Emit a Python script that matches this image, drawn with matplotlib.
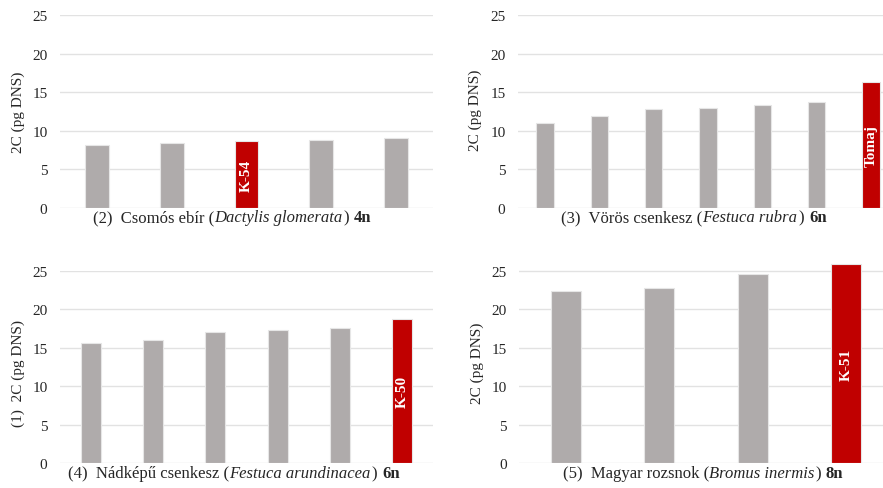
import matplotlib
matplotlib.use("Agg")
import matplotlib.pyplot as plt

# --- Adatok (2C DNS-tartalom, pg) ---
vals_dactylis = [8.2, 8.4, 8.65, 8.8, 9.05]
red_dactylis = 2
lab_dactylis = "K-54"

vals_rubra = [10.95, 11.95, 12.75, 12.95, 13.3, 13.75, 16.35]
red_rubra = 6
lab_rubra = "Tomaj"

vals_arund = [15.6, 16.0, 17.0, 17.3, 17.5, 18.7]
red_arund = 5
lab_arund = "K-50"

vals_bromus = [22.3, 22.75, 24.6, 25.9]
red_bromus = 3
lab_bromus = "K-51"

yticks = [0, 5, 10, 15, 20, 25]

GRAY = "#AFABAB"
RED = "#C00000"
GRID = "#E2E2E2"
TEXT = "#262626"

W, H = 883, 489
plt.rcParams["font.family"] = ["Liberation Serif", "DejaVu Serif"]

fig = plt.figure(figsize=(W / 100, H / 100), dpi=100)


def panel(x0, x1, y0, y25, ymax, values, red_idx, red_label):
    """Egy oszlopdiagram elhelyezése pixelkoordináták alapján."""
    per_unit = (y0 - y25) / 25.0
    top = y0 - ymax * per_unit
    ax = fig.add_axes([x0 / W, 1 - y0 / H, (x1 - x0) / W, (y0 - top) / H])
    xs = list(range(len(values)))
    colors = [RED if i == red_idx else GRAY for i in xs]
    ax.bar(xs, values, width=0.32, color=colors, edgecolor="#E6E6E6",
           linewidth=0.8, zorder=3)
    ax.set_xlim(-0.5, len(values) - 0.5)
    ax.set_ylim(0, ymax)
    ax.set_yticks(yticks)
    ax.set_xticks([])
    ax.yaxis.grid(True, color=GRID, linewidth=1.0, zorder=0)
    for s in ax.spines.values():
        s.set_visible(False)
    ax.tick_params(axis="y", length=0, pad=9, labelsize=11, labelcolor=TEXT)
    v = values[red_idx]
    ax.text(red_idx, v / 2, red_label, rotation=90, ha="center", va="center",
            color="white", fontsize=11, fontweight="bold", zorder=4)
    return ax


panel(60, 433, 209, 16, 25, vals_dactylis, red_dactylis, lab_dactylis)
panel(518, 898, 208.7, 16, 25, vals_rubra, red_rubra, lab_rubra)
panel(60, 433, 464, 271.7, 25, vals_arund, red_arund, lab_arund)
panel(519, 893, 464, 271.7, 26.4, vals_bromus, red_bromus, lab_bromus)


def ftext(x, y, s, **kw):
    return fig.text(x / W, 1 - y / H, s, color=TEXT, **kw)


def caption(xc, y, parts, size=12):
    """Vegyes stílusú (álló / dőlt / félkövér) felirat, középre igazítva.
    Minden rész: (szöveg, stílus, vastagság, utána hagyott rés px-ben)."""
    renderer = fig.canvas.get_renderer()
    texts = []
    total = 0.0
    for s, style, weight, gap in parts:
        t = ftext(0, y, s, fontsize=size, fontstyle=style, fontweight=weight,
                  ha="left", va="baseline")
        w = t.get_window_extent(renderer).width + gap
        texts.append((t, w))
        total += w
    x = xc - total / 2
    for t, w in texts:
        t.set_x(x / W)
        x += w


# tengelyfeliratok
ftext(18, 112, "2C (pg DNS)", rotation=90, ha="center", va="center", fontsize=11)
ftext(475, 110, "2C (pg DNS)", rotation=90, ha="center", va="center", fontsize=11)
ftext(18, 374, "(1)  2C (pg DNS)", rotation=90, ha="center", va="center", fontsize=11)
ftext(477, 363, "2C (pg DNS)", rotation=90, ha="center", va="center", fontsize=11)

# fajnevek a diagramok alatt
N, I, B = "normal", "italic", "bold"
caption(232, 222, [("(2)  Csomós ebír (", N, N, 0), ("Dactylis glomerata", I, N, 1),
                   (")", N, N, 5), ("4n", N, B, 0)])
caption(694, 222, [("(3)  Vörös csenkesz (", N, N, 0), ("Festuca rubra", I, N, 1),
                   (")", N, N, 5), ("6n", N, B, 0)])
caption(234, 478, [("(4)  Nádképű csenkesz (", N, N, 0), ("Festuca arundinacea", I, N, 1),
                   (")", N, N, 5), ("6n", N, B, 0)])
caption(703, 478, [("(5)  Magyar rozsnok (", N, N, 0), ("Bromus inermis", I, N, 1),
                   (")", N, N, 5), ("8n", N, B, 0)])

fig.savefig("out.png", dpi=100, facecolor="white")
